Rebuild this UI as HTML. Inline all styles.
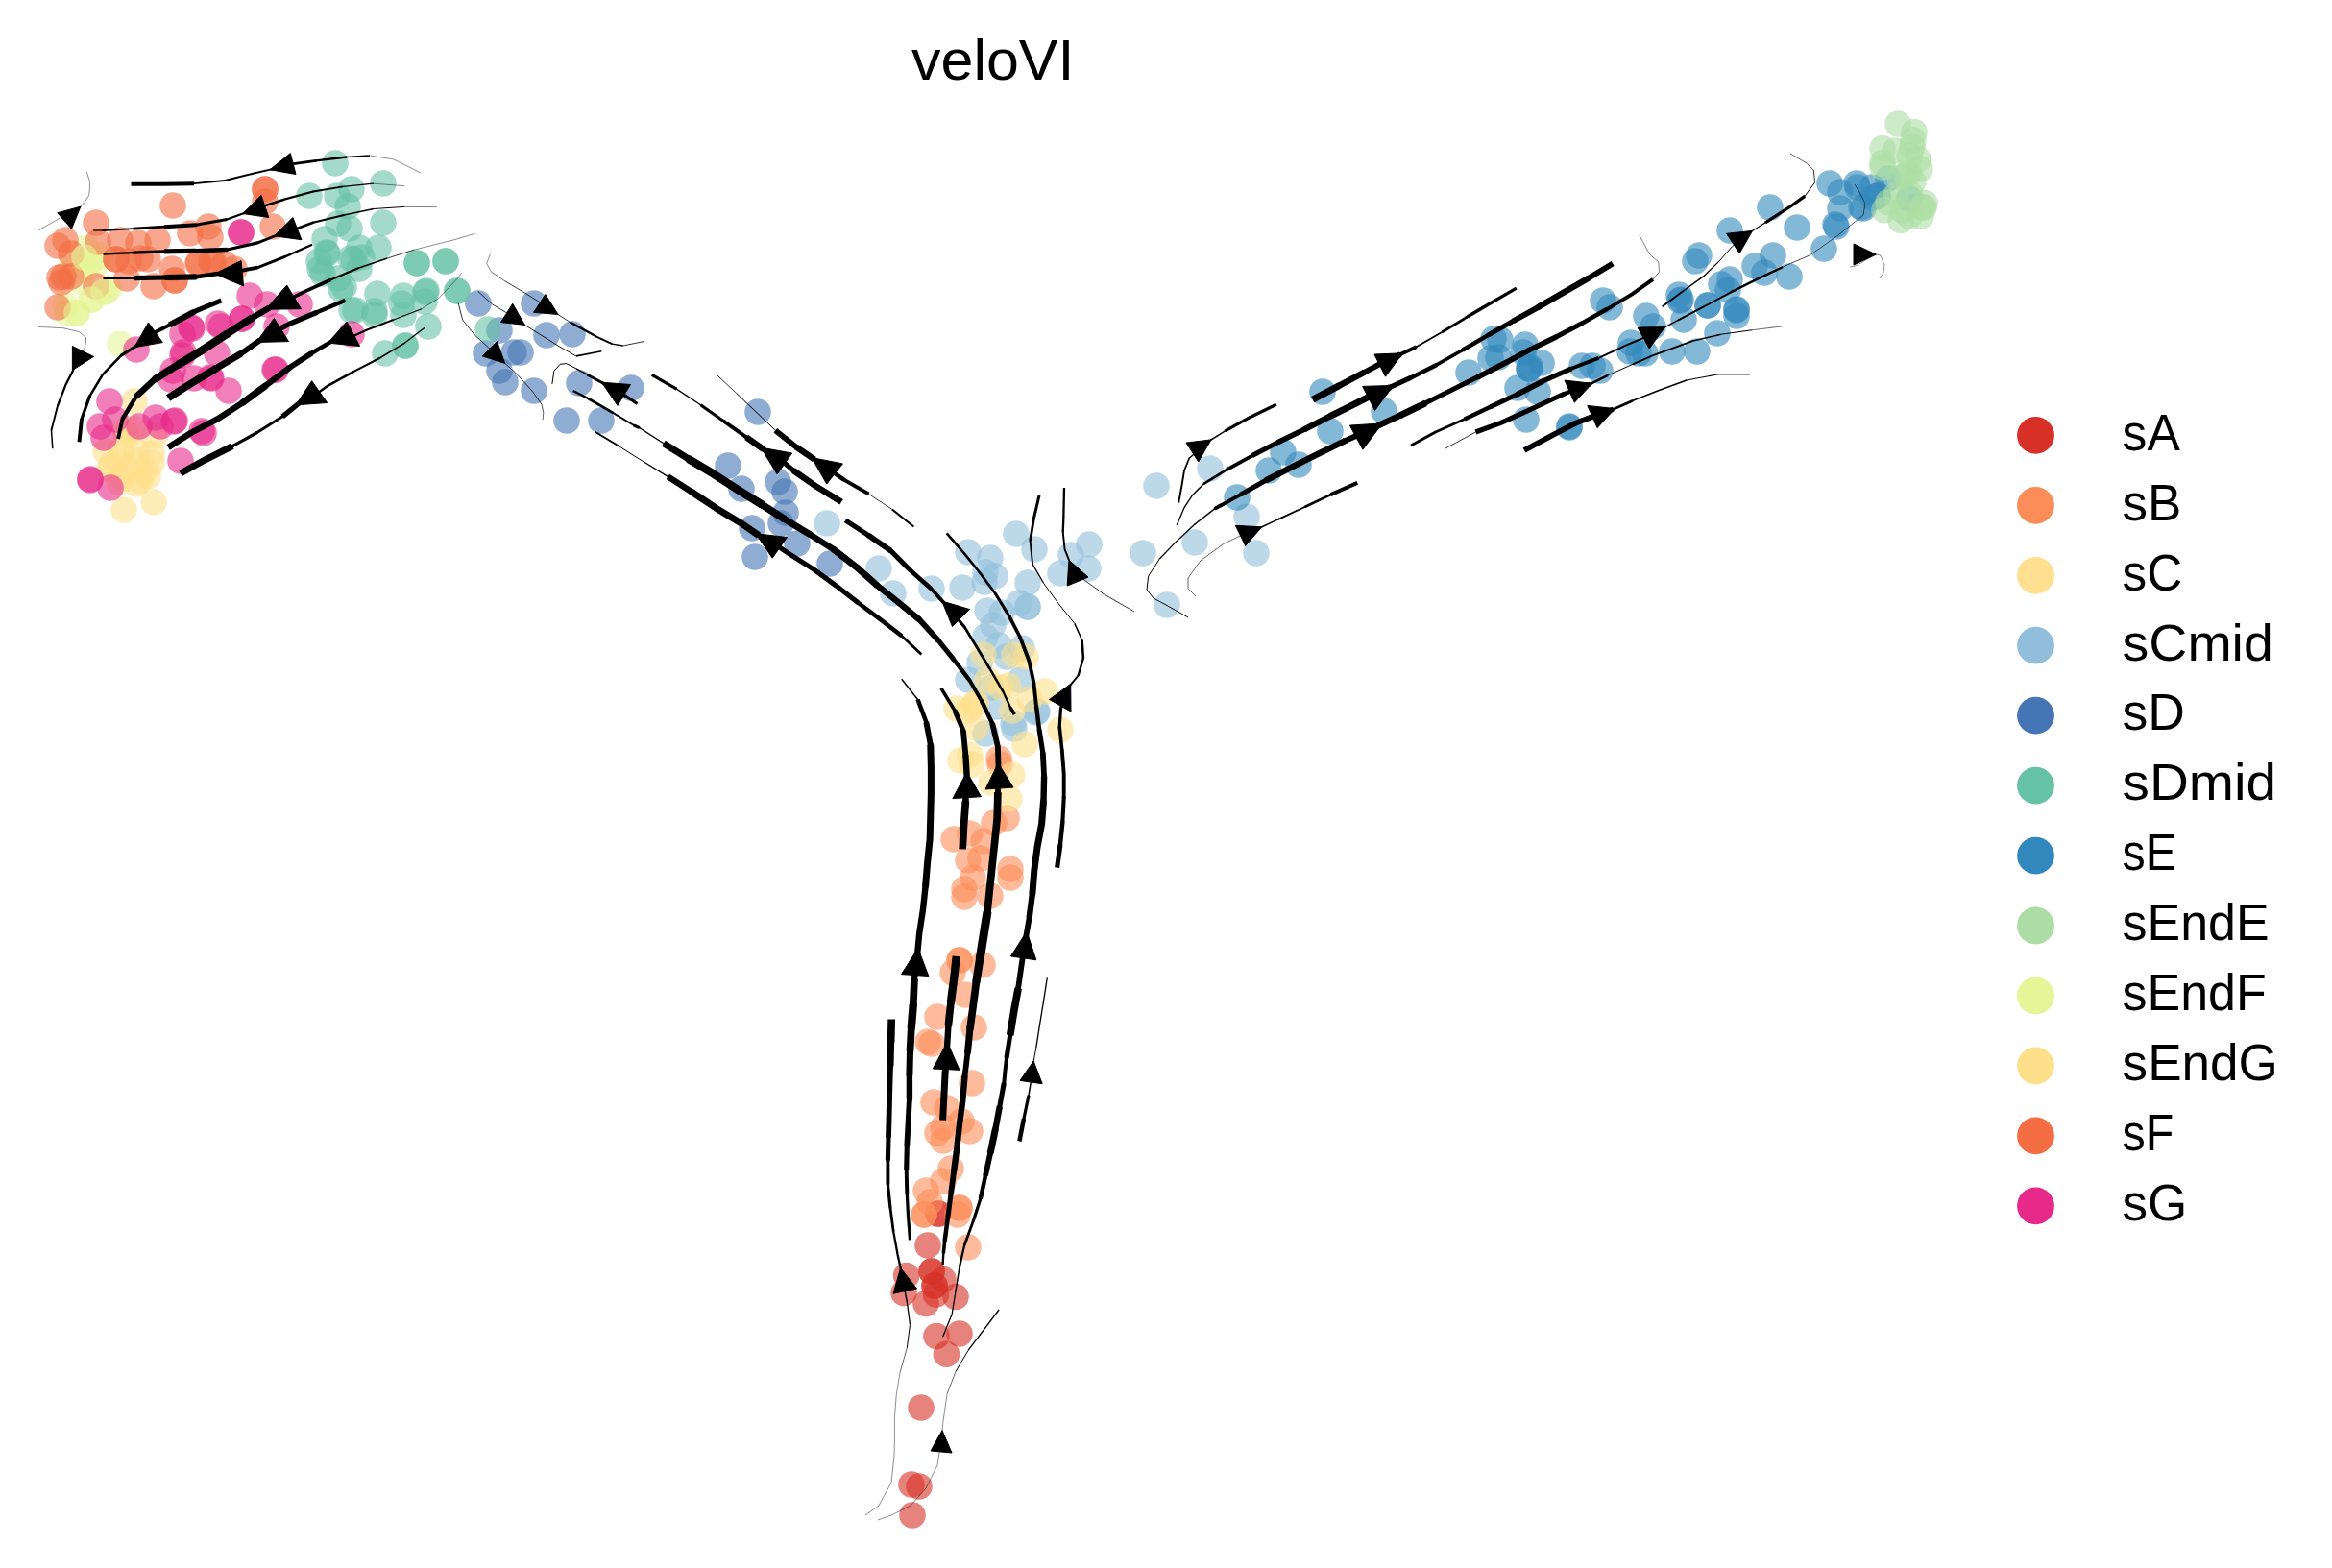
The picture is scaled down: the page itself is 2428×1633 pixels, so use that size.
<!DOCTYPE html>
<html><head><meta charset="utf-8"><title>veloVI</title>
<style>html,body{margin:0;padding:0;background:#fff;}svg{display:block;}
text{font-family:"Liberation Sans",sans-serif;fill:#000;}</style></head>
<body>
<svg xmlns="http://www.w3.org/2000/svg" width="2428" height="1633" viewBox="0 0 2428 1633">
<rect width="2428" height="1633" fill="#fff"/>
<text x="949" y="82.6" font-size="59" textLength="169.5" lengthAdjust="spacingAndGlyphs">veloVI</text>
<g fill="#d73027" fill-opacity="0.6">
<circle cx="977" cy="1264" r="13.8"/>
<circle cx="966" cy="1297" r="13.8"/>
<circle cx="943.6" cy="1328.6" r="13.8"/>
<circle cx="970" cy="1324" r="13.8"/>
<circle cx="982" cy="1332.5" r="13.8"/>
<circle cx="973" cy="1339" r="13.8"/>
<circle cx="941" cy="1346.6" r="13.8"/>
<circle cx="964" cy="1357.5" r="13.8"/>
<circle cx="974.5" cy="1348" r="13.8"/>
<circle cx="995" cy="1350.5" r="13.8"/>
<circle cx="975" cy="1391.6" r="13.8"/>
<circle cx="999" cy="1389" r="13.8"/>
<circle cx="985.4" cy="1410.3" r="13.8"/>
<circle cx="959" cy="1466" r="13.8"/>
<circle cx="949" cy="1546" r="13.8"/>
<circle cx="957" cy="1548" r="13.8"/>
<circle cx="950" cy="1578" r="13.8"/>
<circle cx="970" cy="1324" r="13.8"/>
<circle cx="973" cy="1339" r="13.8"/>
<circle cx="977" cy="1264" r="13.8"/>
</g>
<g fill="#fc8d59" fill-opacity="0.6">
<circle cx="1041" cy="796" r="13.8"/>
<circle cx="1048" cy="852" r="13.8"/>
<circle cx="1035" cy="857" r="13.8"/>
<circle cx="993" cy="874" r="13.8"/>
<circle cx="1010" cy="868" r="13.8"/>
<circle cx="1024" cy="876" r="13.8"/>
<circle cx="1008" cy="896" r="13.8"/>
<circle cx="1021" cy="894" r="13.8"/>
<circle cx="1013" cy="914" r="13.8"/>
<circle cx="1052" cy="905" r="13.8"/>
<circle cx="1052" cy="914" r="13.8"/>
<circle cx="1004" cy="926" r="13.8"/>
<circle cx="1004" cy="934" r="13.8"/>
<circle cx="1031" cy="933" r="13.8"/>
<circle cx="992" cy="1013" r="13.8"/>
<circle cx="1023" cy="1005" r="13.8"/>
<circle cx="1005" cy="1036" r="13.8"/>
<circle cx="976" cy="1059" r="13.8"/>
<circle cx="1014" cy="1070" r="13.8"/>
<circle cx="966" cy="1085" r="13.8"/>
<circle cx="970" cy="1087" r="13.8"/>
<circle cx="1040" cy="790" r="13.8"/>
<circle cx="1012" cy="1128" r="13.8"/>
<circle cx="972" cy="1148" r="13.8"/>
<circle cx="986" cy="1154" r="13.8"/>
<circle cx="1001" cy="1168" r="13.8"/>
<circle cx="1010" cy="1178" r="13.8"/>
<circle cx="976" cy="1180" r="13.8"/>
<circle cx="982" cy="1174" r="13.8"/>
<circle cx="982" cy="1188" r="13.8"/>
<circle cx="990" cy="1217" r="13.8"/>
<circle cx="982" cy="1230" r="13.8"/>
<circle cx="964" cy="1240" r="13.8"/>
<circle cx="968" cy="1252" r="13.8"/>
<circle cx="997" cy="1265" r="13.8"/>
<circle cx="1008" cy="1299" r="13.8"/>
<circle cx="999" cy="1000" r="13.8"/>
<circle cx="999" cy="1000" r="13.8"/>
<circle cx="962" cy="1265" r="13.8"/>
<circle cx="962" cy="1265" r="13.8"/>
<circle cx="999" cy="1258" r="13.8"/>
<circle cx="999" cy="1258" r="13.8"/>
</g>
<g fill="#91bfdb" fill-opacity="0.6">
<circle cx="861" cy="545" r="13.8"/>
<circle cx="915" cy="592" r="13.8"/>
<circle cx="930" cy="618" r="13.8"/>
<circle cx="970" cy="613" r="13.8"/>
<circle cx="1008" cy="575" r="13.8"/>
<circle cx="1031" cy="581" r="13.8"/>
<circle cx="1058" cy="556" r="13.8"/>
<circle cx="1077" cy="572" r="13.8"/>
<circle cx="1115" cy="578" r="13.8"/>
<circle cx="1134" cy="567" r="13.8"/>
<circle cx="1133" cy="592" r="13.8"/>
<circle cx="1104" cy="597" r="13.8"/>
<circle cx="1190" cy="576" r="13.8"/>
<circle cx="1204" cy="506" r="13.8"/>
<circle cx="1244" cy="565" r="13.8"/>
<circle cx="1308" cy="576" r="13.8"/>
<circle cx="1215" cy="630" r="13.8"/>
<circle cx="1260" cy="488" r="13.8"/>
<circle cx="1298" cy="538" r="13.8"/>
<circle cx="1026" cy="596" r="13.8"/>
<circle cx="1036" cy="600" r="13.8"/>
<circle cx="1002" cy="612" r="13.8"/>
<circle cx="1025" cy="606" r="13.8"/>
<circle cx="1070" cy="607" r="13.8"/>
<circle cx="1028" cy="636" r="13.8"/>
<circle cx="1043" cy="638" r="13.8"/>
<circle cx="1061" cy="628" r="13.8"/>
<circle cx="1070" cy="632" r="13.8"/>
<circle cx="1034" cy="651" r="13.8"/>
<circle cx="1026" cy="663" r="13.8"/>
<circle cx="1040" cy="672" r="13.8"/>
<circle cx="1064" cy="675" r="13.8"/>
<circle cx="1048" cy="684" r="13.8"/>
<circle cx="1020" cy="690" r="13.8"/>
<circle cx="1008" cy="708" r="13.8"/>
<circle cx="1032" cy="716" r="13.8"/>
<circle cx="1062" cy="708" r="13.8"/>
<circle cx="1080" cy="741" r="13.8"/>
<circle cx="1056" cy="759" r="13.8"/>
<circle cx="1026" cy="764" r="13.8"/>
<circle cx="1038" cy="736" r="13.8"/>
<circle cx="1055" cy="753" r="13.8"/>
<circle cx="1079" cy="742" r="13.8"/>
<circle cx="1070" cy="632" r="13.8"/>
</g>
<g fill="#4575b4" fill-opacity="0.6">
<circle cx="498" cy="316" r="13.8"/>
<circle cx="556" cy="316" r="13.8"/>
<circle cx="520" cy="344" r="13.8"/>
<circle cx="569" cy="349" r="13.8"/>
<circle cx="596" cy="348" r="13.8"/>
<circle cx="506" cy="368" r="13.8"/>
<circle cx="535" cy="367" r="13.8"/>
<circle cx="542" cy="367" r="13.8"/>
<circle cx="520" cy="386" r="13.8"/>
<circle cx="526" cy="398" r="13.8"/>
<circle cx="556" cy="407" r="13.8"/>
<circle cx="603" cy="399" r="13.8"/>
<circle cx="657" cy="404" r="13.8"/>
<circle cx="590" cy="438" r="13.8"/>
<circle cx="626" cy="438" r="13.8"/>
<circle cx="789" cy="429" r="13.8"/>
<circle cx="758" cy="485" r="13.8"/>
<circle cx="772" cy="509" r="13.8"/>
<circle cx="810" cy="502" r="13.8"/>
<circle cx="817" cy="512" r="13.8"/>
<circle cx="818" cy="534" r="13.8"/>
<circle cx="813" cy="545" r="13.8"/>
<circle cx="783" cy="550" r="13.8"/>
<circle cx="830" cy="566" r="13.8"/>
<circle cx="786" cy="580" r="13.8"/>
<circle cx="864" cy="587" r="13.8"/>
</g>
<g fill="#66c2a5" fill-opacity="0.6">
<circle cx="349" cy="170" r="13.8"/>
<circle cx="399" cy="191" r="13.8"/>
<circle cx="366" cy="197" r="13.8"/>
<circle cx="322" cy="204" r="13.8"/>
<circle cx="351" cy="204" r="13.8"/>
<circle cx="362" cy="215" r="13.8"/>
<circle cx="399" cy="232" r="13.8"/>
<circle cx="352" cy="233" r="13.8"/>
<circle cx="364" cy="238" r="13.8"/>
<circle cx="338" cy="249" r="13.8"/>
<circle cx="394" cy="258" r="13.8"/>
<circle cx="374" cy="258" r="13.8"/>
<circle cx="340" cy="263" r="13.8"/>
<circle cx="332" cy="272" r="13.8"/>
<circle cx="368" cy="270" r="13.8"/>
<circle cx="374" cy="280" r="13.8"/>
<circle cx="336" cy="285" r="13.8"/>
<circle cx="358" cy="299" r="13.8"/>
<circle cx="352" cy="290" r="13.8"/>
<circle cx="434" cy="274" r="13.8"/>
<circle cx="464" cy="272" r="13.8"/>
<circle cx="393" cy="306" r="13.8"/>
<circle cx="420" cy="308" r="13.8"/>
<circle cx="444" cy="303" r="13.8"/>
<circle cx="476" cy="303" r="13.8"/>
<circle cx="370" cy="323" r="13.8"/>
<circle cx="390" cy="324" r="13.8"/>
<circle cx="420" cy="328" r="13.8"/>
<circle cx="442" cy="314" r="13.8"/>
<circle cx="446" cy="340" r="13.8"/>
<circle cx="422" cy="360" r="13.8"/>
<circle cx="401" cy="368" r="13.8"/>
<circle cx="418" cy="316" r="13.8"/>
<circle cx="508" cy="343" r="13.8"/>
<circle cx="377" cy="268" r="13.8"/>
<circle cx="464" cy="272" r="13.8"/>
<circle cx="434" cy="274" r="13.8"/>
<circle cx="476" cy="303" r="13.8"/>
<circle cx="443" cy="304" r="13.8"/>
<circle cx="422" cy="360" r="13.8"/>
<circle cx="366" cy="323" r="13.8"/>
<circle cx="390" cy="328" r="13.8"/>
<circle cx="341" cy="264" r="13.8"/>
<circle cx="365" cy="269" r="13.8"/>
<circle cx="333" cy="280" r="13.8"/>
<circle cx="355" cy="301" r="13.8"/>
</g>
<g fill="#3288bd" fill-opacity="0.6">
<circle cx="1288" cy="518" r="13.8"/>
<circle cx="1321" cy="490" r="13.8"/>
<circle cx="1377" cy="408" r="13.8"/>
<circle cx="1336" cy="471" r="13.8"/>
<circle cx="1352" cy="484" r="13.8"/>
<circle cx="1385" cy="449" r="13.8"/>
<circle cx="1441" cy="428" r="13.8"/>
<circle cx="1529" cy="388" r="13.8"/>
<circle cx="1552" cy="373" r="13.8"/>
<circle cx="1555" cy="353" r="13.8"/>
<circle cx="1588" cy="359" r="13.8"/>
<circle cx="1586" cy="367" r="13.8"/>
<circle cx="1592" cy="384" r="13.8"/>
<circle cx="1580" cy="404" r="13.8"/>
<circle cx="1601" cy="408" r="13.8"/>
<circle cx="1589" cy="437" r="13.8"/>
<circle cx="1605" cy="378" r="13.8"/>
<circle cx="1634" cy="445" r="13.8"/>
<circle cx="1669" cy="313" r="13.8"/>
<circle cx="1676" cy="320" r="13.8"/>
<circle cx="1647" cy="381" r="13.8"/>
<circle cx="1658" cy="381" r="13.8"/>
<circle cx="1666" cy="386" r="13.8"/>
<circle cx="1698" cy="357" r="13.8"/>
<circle cx="1706" cy="368" r="13.8"/>
<circle cx="1713" cy="368" r="13.8"/>
<circle cx="1714" cy="329" r="13.8"/>
<circle cx="1721" cy="340" r="13.8"/>
<circle cx="1741" cy="366" r="13.8"/>
<circle cx="1767" cy="366" r="13.8"/>
<circle cx="1748" cy="307" r="13.8"/>
<circle cx="1750" cy="312" r="13.8"/>
<circle cx="1753" cy="333" r="13.8"/>
<circle cx="1778" cy="318" r="13.8"/>
<circle cx="1788" cy="347" r="13.8"/>
<circle cx="1769" cy="266" r="13.8"/>
<circle cx="1765" cy="272" r="13.8"/>
<circle cx="1801" cy="240" r="13.8"/>
<circle cx="1792" cy="296" r="13.8"/>
<circle cx="1843" cy="216" r="13.8"/>
<circle cx="1871" cy="237" r="13.8"/>
<circle cx="1846" cy="266" r="13.8"/>
<circle cx="1827" cy="277" r="13.8"/>
<circle cx="1837" cy="284" r="13.8"/>
<circle cx="1863" cy="288" r="13.8"/>
<circle cx="1801" cy="291" r="13.8"/>
<circle cx="1799" cy="302" r="13.8"/>
<circle cx="1808" cy="322" r="13.8"/>
<circle cx="1808" cy="329" r="13.8"/>
<circle cx="1899" cy="259" r="13.8"/>
<circle cx="1912" cy="236" r="13.8"/>
<circle cx="1916" cy="217" r="13.8"/>
<circle cx="1940" cy="217" r="13.8"/>
<circle cx="1905" cy="191" r="13.8"/>
<circle cx="1916" cy="200" r="13.8"/>
<circle cx="1933" cy="191" r="13.8"/>
<circle cx="1950" cy="206" r="13.8"/>
<circle cx="1934" cy="195" r="13.8"/>
<circle cx="1949" cy="195" r="13.8"/>
<circle cx="1955" cy="204" r="13.8"/>
<circle cx="1966" cy="186" r="13.8"/>
<circle cx="1938" cy="216" r="13.8"/>
<circle cx="1988" cy="207" r="13.8"/>
<circle cx="1562" cy="354" r="13.8"/>
<circle cx="1560" cy="372" r="13.8"/>
<circle cx="1593" cy="382" r="13.8"/>
<circle cx="1911" cy="234" r="13.8"/>
<circle cx="1697" cy="366" r="13.8"/>
<circle cx="1808" cy="323" r="13.8"/>
<circle cx="1778" cy="318" r="13.8"/>
<circle cx="1749" cy="313" r="13.8"/>
<circle cx="1955" cy="204" r="13.8"/>
<circle cx="1634" cy="444" r="13.8"/>
<circle cx="1592" cy="384" r="13.8"/>
</g>
<g fill="#abdda4" fill-opacity="0.6">
<circle cx="1976" cy="129" r="13.8"/>
<circle cx="1993" cy="137.5" r="13.8"/>
<circle cx="1992" cy="146" r="13.8"/>
<circle cx="1960" cy="154.5" r="13.8"/>
<circle cx="1973" cy="157" r="13.8"/>
<circle cx="1991" cy="153.6" r="13.8"/>
<circle cx="1988" cy="162.5" r="13.8"/>
<circle cx="1960" cy="169.6" r="13.8"/>
<circle cx="1960" cy="174" r="13.8"/>
<circle cx="1999" cy="176" r="13.8"/>
<circle cx="1987" cy="180" r="13.8"/>
<circle cx="1992" cy="189" r="13.8"/>
<circle cx="1978" cy="185" r="13.8"/>
<circle cx="2004" cy="211.6" r="13.8"/>
<circle cx="1974" cy="203.6" r="13.8"/>
<circle cx="1966" cy="210.7" r="13.8"/>
<circle cx="2001" cy="216" r="13.8"/>
<circle cx="1988" cy="225" r="13.8"/>
<circle cx="2000" cy="225" r="13.8"/>
<circle cx="1962" cy="218.8" r="13.8"/>
<circle cx="1979" cy="229.5" r="13.8"/>
<circle cx="2003" cy="216" r="13.8"/>
<circle cx="1985" cy="182" r="13.8"/>
<circle cx="1989" cy="203" r="13.8"/>
<circle cx="1981" cy="219" r="13.8"/>
<circle cx="1997" cy="166" r="13.8"/>
</g>
<g fill="#e6f598" fill-opacity="0.6">
<circle cx="90" cy="258" r="13.8"/>
<circle cx="90" cy="280" r="13.8"/>
<circle cx="110" cy="304" r="13.8"/>
<circle cx="96" cy="312" r="13.8"/>
<circle cx="80" cy="326" r="13.8"/>
<circle cx="70" cy="326" r="13.8"/>
<circle cx="75" cy="272" r="13.8"/>
<circle cx="125" cy="358" r="13.8"/>
<circle cx="104" cy="266" r="13.8"/>
<circle cx="97" cy="270" r="13.8"/>
<circle cx="100" cy="275" r="13.8"/>
<circle cx="84" cy="293" r="13.8"/>
<circle cx="68" cy="317" r="13.8"/>
<circle cx="114" cy="300" r="13.8"/>
</g>
<g fill="#fee08b" fill-opacity="0.6">
<circle cx="140" cy="418" r="13.8"/>
<circle cx="138" cy="446" r="13.8"/>
<circle cx="122" cy="480" r="13.8"/>
<circle cx="142" cy="480" r="13.8"/>
<circle cx="158" cy="482" r="13.8"/>
<circle cx="154" cy="496" r="13.8"/>
<circle cx="126" cy="496" r="13.8"/>
<circle cx="142" cy="504" r="13.8"/>
<circle cx="129" cy="531" r="13.8"/>
<circle cx="160" cy="523" r="13.8"/>
<circle cx="132" cy="454" r="13.8"/>
<circle cx="161" cy="454" r="13.8"/>
<circle cx="116" cy="484" r="13.8"/>
<circle cx="130" cy="448" r="13.8"/>
<circle cx="1000" cy="792" r="13.8"/>
<circle cx="1010" cy="786" r="13.8"/>
<circle cx="1012" cy="796" r="13.8"/>
<circle cx="1032" cy="815" r="13.8"/>
<circle cx="1054" cy="807" r="13.8"/>
<circle cx="1051" cy="832" r="13.8"/>
<circle cx="1067" cy="775" r="13.8"/>
<circle cx="1024" cy="682" r="13.8"/>
<circle cx="1056" cy="682" r="13.8"/>
<circle cx="1068" cy="684" r="13.8"/>
<circle cx="1042" cy="716" r="13.8"/>
<circle cx="1050" cy="714" r="13.8"/>
<circle cx="1028" cy="708" r="13.8"/>
<circle cx="1016" cy="732" r="13.8"/>
<circle cx="1008" cy="740" r="13.8"/>
<circle cx="1054" cy="740" r="13.8"/>
<circle cx="1072" cy="728" r="13.8"/>
<circle cx="1088" cy="720" r="13.8"/>
<circle cx="1016" cy="758" r="13.8"/>
<circle cx="1104" cy="760" r="13.8"/>
<circle cx="996" cy="738" r="13.8"/>
<circle cx="1014" cy="734" r="13.8"/>
<circle cx="110" cy="470" r="13.8"/>
<circle cx="126" cy="468" r="13.8"/>
<circle cx="142" cy="470" r="13.8"/>
<circle cx="158" cy="472" r="13.8"/>
<circle cx="114" cy="488" r="13.8"/>
<circle cx="132" cy="488" r="13.8"/>
<circle cx="150" cy="490" r="13.8"/>
<circle cx="124" cy="502" r="13.8"/>
<circle cx="146" cy="500" r="13.8"/>
</g>
<g fill="#f46d43" fill-opacity="0.6">
<circle cx="180" cy="214" r="13.8"/>
<circle cx="100" cy="232" r="13.8"/>
<circle cx="68" cy="250" r="13.8"/>
<circle cx="60" cy="256" r="13.8"/>
<circle cx="102" cy="252" r="13.8"/>
<circle cx="125" cy="250" r="13.8"/>
<circle cx="144" cy="253" r="13.8"/>
<circle cx="164" cy="250" r="13.8"/>
<circle cx="198" cy="243" r="13.8"/>
<circle cx="217" cy="236" r="13.8"/>
<circle cx="219" cy="247" r="13.8"/>
<circle cx="284" cy="236" r="13.8"/>
<circle cx="154" cy="270" r="13.8"/>
<circle cx="134" cy="272" r="13.8"/>
<circle cx="179" cy="280" r="13.8"/>
<circle cx="132" cy="290" r="13.8"/>
<circle cx="160" cy="298" r="13.8"/>
<circle cx="60" cy="320" r="13.8"/>
<circle cx="74" cy="264" r="13.8"/>
<circle cx="100" cy="298" r="13.8"/>
<circle cx="276" cy="197" r="13.8"/>
<circle cx="276" cy="210" r="13.8"/>
<circle cx="121" cy="270" r="13.8"/>
<circle cx="182" cy="292" r="13.8"/>
<circle cx="206" cy="274" r="13.8"/>
<circle cx="222" cy="272" r="13.8"/>
<circle cx="244" cy="280" r="13.8"/>
<circle cx="66" cy="288" r="13.8"/>
<circle cx="64" cy="294" r="13.8"/>
<circle cx="276" cy="197" r="13.8"/>
<circle cx="121" cy="270" r="13.8"/>
<circle cx="182" cy="292" r="13.8"/>
<circle cx="220" cy="272" r="13.8"/>
<circle cx="207" cy="274" r="13.8"/>
<circle cx="62" cy="289" r="13.8"/>
<circle cx="146" cy="269" r="13.8"/>
<circle cx="234" cy="275" r="13.8"/>
<circle cx="74" cy="288" r="13.8"/>
</g>
<g fill="#e6f598" fill-opacity="0.6">
<circle cx="88" cy="268" r="13.8"/>
<circle cx="108" cy="304" r="13.8"/>
<circle cx="80" cy="326" r="13.8"/>
<circle cx="95" cy="312" r="13.8"/>
</g>
<g fill="#e7298a" fill-opacity="0.6">
<circle cx="251" cy="242" r="13.8"/>
<circle cx="260" cy="308" r="13.8"/>
<circle cx="278" cy="317" r="13.8"/>
<circle cx="312" cy="317" r="13.8"/>
<circle cx="252" cy="332" r="13.8"/>
<circle cx="230" cy="340" r="13.8"/>
<circle cx="200" cy="342" r="13.8"/>
<circle cx="190" cy="348" r="13.8"/>
<circle cx="288" cy="340" r="13.8"/>
<circle cx="366" cy="348" r="13.8"/>
<circle cx="142" cy="364" r="13.8"/>
<circle cx="190" cy="370" r="13.8"/>
<circle cx="226" cy="368" r="13.8"/>
<circle cx="180" cy="386" r="13.8"/>
<circle cx="202" cy="394" r="13.8"/>
<circle cx="220" cy="394" r="13.8"/>
<circle cx="238" cy="407" r="13.8"/>
<circle cx="287" cy="385" r="13.8"/>
<circle cx="114" cy="418" r="13.8"/>
<circle cx="182" cy="438" r="13.8"/>
<circle cx="210" cy="449" r="13.8"/>
<circle cx="162" cy="435" r="13.8"/>
<circle cx="104" cy="444" r="13.8"/>
<circle cx="120" cy="437" r="13.8"/>
<circle cx="108" cy="456" r="13.8"/>
<circle cx="145" cy="444" r="13.8"/>
<circle cx="167" cy="444" r="13.8"/>
<circle cx="188" cy="480" r="13.8"/>
<circle cx="94" cy="500" r="13.8"/>
<circle cx="115" cy="508" r="13.8"/>
<circle cx="286" cy="385" r="13.8"/>
<circle cx="181" cy="439" r="13.8"/>
<circle cx="212" cy="451" r="13.8"/>
<circle cx="94" cy="499" r="13.8"/>
<circle cx="227" cy="337" r="13.8"/>
<circle cx="252" cy="332" r="13.8"/>
<circle cx="199" cy="341" r="13.8"/>
<circle cx="191" cy="367" r="13.8"/>
<circle cx="178" cy="395" r="13.8"/>
<circle cx="219" cy="393" r="13.8"/>
<circle cx="251" cy="242" r="13.8"/>
</g>
<g fill="none" stroke="#000" stroke-linejoin="round">
<path d="M438 180 L410 166 L385 162" stroke-width="0.45"/>
<path d="M385 162 L361 163.5" stroke-width="1.5"/>
<path d="M361 163.5 L329 167.4" stroke-width="2.3"/>
<path d="M329 167.4 L305.5 170.6 L282.3 176.4" stroke-width="2.6"/>
<path d="M282.3 176.4 L265.6 180.2 L234.3 188" stroke-width="1.9"/>
<path d="M234.3 188 L202.1 191.2" stroke-width="1.8"/>
<path d="M202.1 191.2 L169.3 191.8 L136.5 191.8" stroke-width="4.1"/>
<path d="M421.3 193.7 L389.1 191.2" stroke-width="0.45"/>
<path d="M389.1 191.2 L357 194.4" stroke-width="1.3"/>
<path d="M357 194.4 L326 199.5" stroke-width="1.8"/>
<path d="M326 199.5 L295.2 207.9" stroke-width="2.3"/>
<path d="M295.2 207.9 L277.2 213.7 L254.2 222" stroke-width="2.6"/>
<path d="M254.2 222 L236.2 228.5" stroke-width="2.3"/>
<path d="M236.2 228.5 L204 234.3" stroke-width="3.2"/>
<path d="M204 234.3 L171.2 236.2" stroke-width="4.1"/>
<path d="M171.2 236.2 L138.4 238.1" stroke-width="2.8"/>
<path d="M138.4 238.1 L106.9 240" stroke-width="1.9"/>
<path d="M106.9 240 L97.2 240" stroke-width="1.3"/>
<path d="M454.7 215.6 L421.3 215.4" stroke-width="0.50"/>
<path d="M421.3 215.4 L389.1 217.5" stroke-width="1"/>
<path d="M389.1 217.5 L358.2 224" stroke-width="1.5"/>
<path d="M358.2 224 L326 231.7" stroke-width="2.1"/>
<path d="M326 231.7 L310.6 237.5 L287.5 245.2 L268.4 252.9" stroke-width="2.8"/>
<path d="M268.4 252.9 L236.8 260" stroke-width="3.2"/>
<path d="M236.8 260 L204 261.3" stroke-width="4.5"/>
<path d="M204 261.3 L171.2 261.9" stroke-width="5.1"/>
<path d="M171.2 261.9 L138.4 263.2" stroke-width="3.2"/>
<path d="M138.4 263.2 L107.5 264.5" stroke-width="2.3"/>
<path d="M325 254.8 L297.3 267.1" stroke-width="2.3"/>
<path d="M297.3 267.1 L268.4 278.6" stroke-width="2.8"/>
<path d="M268.4 278.6 L253 281.5 L226.5 285.1" stroke-width="3.9"/>
<path d="M226.5 285.1 L204.7 288.3" stroke-width="4.5"/>
<path d="M204.7 288.3 L171.9 289" stroke-width="6.2"/>
<path d="M171.9 289 L139 289.6" stroke-width="5.1"/>
<path d="M139 289.6 L107.5 289.6" stroke-width="2.8"/>
<path d="M494.6 243.3 L472 250 L431.6 260" stroke-width="0.45"/>
<path d="M431.6 260 L403.3 269" stroke-width="0.80"/>
<path d="M403.3 269 L373 279.3" stroke-width="1.5"/>
<path d="M373 279.3 L344.1 291.5" stroke-width="2.3"/>
<path d="M344.1 291.5 L315.7 304.3 L306 309.4 L280.5 320.5" stroke-width="3.6"/>
<path d="M280.5 320.5 L262.6 330.9" stroke-width="6.4"/>
<path d="M262.6 330.9 L236.8 347.6" stroke-width="7.7"/>
<path d="M236.8 347.6 L211.1 364.3 L185.4 379.8" stroke-width="8.4"/>
<path d="M185.4 379.8 L160.9 395.2" stroke-width="7.7"/>
<path d="M160.9 395.2 L141.6 413.2" stroke-width="6.4"/>
<path d="M141.6 413.2 L127.5 436.4" stroke-width="4.5"/>
<path d="M127.5 436.4 L123 457" stroke-width="3.9"/>
<path d="M230.4 312.8 L202.1 324.7" stroke-width="5.1"/>
<path d="M202.1 324.7 L176.4 338.6" stroke-width="6.2"/>
<path d="M176.4 338.6 L163.5 345 L141.6 360.5" stroke-width="3.9"/>
<path d="M141.6 360.5 L126.2 370.1" stroke-width="3.2"/>
<path d="M126.2 370.1 L106.9 390.1 L93.4 412.6" stroke-width="2.6"/>
<path d="M93.4 412.6 L85 436.4" stroke-width="3.2"/>
<path d="M85 436.4 L82.5 460.2" stroke-width="3.9"/>
<path d="M359.5 312.8 L330 325.3" stroke-width="4.5"/>
<path d="M330 325.3 L301.4 337.3 L286 345 L270.3 354.7" stroke-width="5.4"/>
<path d="M270.3 354.7 L251 368.2" stroke-width="5.8"/>
<path d="M251 368.2 L225.3 383.6" stroke-width="7"/>
<path d="M225.3 383.6 L199.5 399 L175.1 414.5" stroke-width="7.7"/>
<path d="M480.5 284.4 L476.4 290 L456.8 310.5" stroke-width="0.45"/>
<path d="M456.8 310.5 L438.9 321.7" stroke-width="0.50"/>
<path d="M438.9 321.7 L409.9 332.9" stroke-width="1.1"/>
<path d="M409.9 332.9 L380.9 344 L368 350 L344.3 356.1" stroke-width="2"/>
<path d="M344.3 356.1 L324.6 367.7" stroke-width="4.5"/>
<path d="M324.6 367.7 L301.4 382.9" stroke-width="5.8"/>
<path d="M301.4 382.9 L276.7 401.6" stroke-width="6.3"/>
<path d="M276.7 401.6 L252.3 419.6" stroke-width="7"/>
<path d="M252.3 419.6 L226.5 436.4 L199.5 450.5 L175.1 466" stroke-width="6.4"/>
<path d="M442.5 340.9 L420.2 357.9" stroke-width="1.3"/>
<path d="M420.2 357.9 L395.2 373" stroke-width="1.6"/>
<path d="M395.2 373 L368.4 386.9" stroke-width="2"/>
<path d="M368.4 386.9 L341.6 401.6 L332.6 408 L311.3 420" stroke-width="2.5"/>
<path d="M311.3 420 L294.1 433.8" stroke-width="5.4"/>
<path d="M294.1 433.8 L267.7 450.5" stroke-width="2.8"/>
<path d="M267.7 450.5 L242 464.7" stroke-width="3.2"/>
<path d="M242 464.7 L213.7 478.8 L188 493" stroke-width="7"/>
<path d="M90.3 179.2 L93.4 188.7 L93.4 197.3 L92.6 203.6 L88.5 210 L84 215.1 L62.7 226.9 L40.3 239.8" stroke-width="0.45"/>
<path d="M40 340.4 L65.7 341.7 L82.5 345.6 L89.5 351.5 L89.5 356.6 L87.6 364.3" stroke-width="0.45"/>
<path d="M87.6 364.3 L76.5 385" stroke-width="0.50"/>
<path d="M76.5 385 L68.9 399.7 L59.9 422.9" stroke-width="2.3"/>
<path d="M59.9 422.9 L53.5 448" stroke-width="1.9"/>
<path d="M53.5 448 L54.8 467.2" stroke-width="1.5"/>
<path d="M510.5 264.8 L506.7 274.4 L511.2 282.8" stroke-width="0.45"/>
<path d="M511.2 282.8 L525.3 292.5" stroke-width="0.60"/>
<path d="M525.3 292.5 L545.9 304.7 L561.3 314.3 L580.6 327.2 L593.5 335.6" stroke-width="0.80"/>
<path d="M593.5 335.6 L620.5 350.3" stroke-width="2.3"/>
<path d="M620.5 350.3 L637.2 358.1" stroke-width="1.9"/>
<path d="M637.2 358.1 L648.8 360" stroke-width="1.3"/>
<path d="M648.8 360 L670.7 355.5" stroke-width="0.80"/>
<path d="M497.7 303.4 L512.5 316.9 L526.6 325.3 L545.9 338.1" stroke-width="0.80"/>
<path d="M545.9 338.1 L581.9 360.6 L599.9 370.9" stroke-width="0.90"/>
<path d="M599.9 370.9 L626.3 365.8" stroke-width="1.6"/>
<path d="M477.1 315.6 L481.6 333 L494.4 349.1 L508.6 361.9 L525.3 378 L538.2 389.6 L554.9 408.2 L563.9 421.1" stroke-width="0.80"/>
<path d="M563.9 421.1 L565.8 429.5" stroke-width="0.70"/>
<path d="M565.8 429.5 L565.2 437.2" stroke-width="0.60"/>
<path d="M663.6 420.5 L649.8 411.4 L628.2 399.2" stroke-width="3.2"/>
<path d="M628.2 399.2 L611.5 390.2" stroke-width="2.8"/>
<path d="M611.5 390.2 L599.9 383.8" stroke-width="1.5"/>
<path d="M599.9 383.8 L589.6 378.6 L583.2 379.3 L576.8 386.4 L574.9 399.9" stroke-width="1"/>
<path d="M596.7 407 L612.8 415.3" stroke-width="2.3"/>
<path d="M612.8 415.3 L638.5 430.1" stroke-width="2.8"/>
<path d="M638.5 430.1 L660 443" stroke-width="1.9"/>
<path d="M660 443 L665.8 445.6" stroke-width="3.2"/>
<path d="M665.8 445.6 L690.9 461.7" stroke-width="1.3"/>
<path d="M690.9 461.7 L716.6 477.8" stroke-width="7"/>
<path d="M716.6 477.8 L742.3 493.2 L768.1 509.9 L793.2 525.4" stroke-width="8.4"/>
<path d="M793.2 525.4 L817 540.8" stroke-width="7.7"/>
<path d="M817 540.8 L842.7 556.3" stroke-width="7"/>
<path d="M842.7 556.3 L868 572.2" stroke-width="6.4"/>
<path d="M868 572.2 L891.2 590.2 L913 609.5" stroke-width="7"/>
<path d="M913 609.5 L935.6 627.5 L957.4 645.5" stroke-width="6.4"/>
<path d="M957.4 645.5 L976.7 666.7" stroke-width="5.8"/>
<path d="M976.7 666.7 L992.8 686.7" stroke-width="5.1"/>
<path d="M992.8 686.7 L1009.5 708.5" stroke-width="4.5"/>
<path d="M1009.5 708.5 L1022 730" stroke-width="3.9"/>
<path d="M1022 730 L1033.1 753.2" stroke-width="4.5"/>
<path d="M1033.1 753.2 L1038.9 777.6 L1039.5 798.8 L1038.9 825.2" stroke-width="5.8"/>
<path d="M1038.9 825.2 L1038.2 852.2 L1035.7 876.7 L1033.1 901.1 L1030.5 925.5 L1028 949.6" stroke-width="7.7"/>
<path d="M1028 949.6 L1024.1 974 L1020.2 998.5" stroke-width="9"/>
<path d="M1020.2 998.5 L1016.4 1022.9" stroke-width="8.4"/>
<path d="M1016.4 1022.9 L1013.2 1047.4 L1009.9 1071.8" stroke-width="7.7"/>
<path d="M1009.9 1071.8 L1007.4 1096.9" stroke-width="7"/>
<path d="M1007.4 1096.9 L1004.5 1121" stroke-width="5.8"/>
<path d="M1004.5 1121 L1002.2 1146.7 L999 1170.5 L996.4 1194.9 L993.2 1219.4" stroke-width="6.4"/>
<path d="M993.2 1219.4 L990 1243.8" stroke-width="5.8"/>
<path d="M990 1243.8 L986.8 1268.2" stroke-width="5.1"/>
<path d="M986.8 1268.2 L983.6 1292.7" stroke-width="4.5"/>
<path d="M983.6 1292.7 L982.3 1305" stroke-width="3.6"/>
<path d="M982.3 1305 L981.6 1317" stroke-width="2.4"/>
<path d="M620 450 L645 465" stroke-width="2"/>
<path d="M645 465 L660 474.6 L670.3 481" stroke-width="1"/>
<path d="M670.3 481 L695.4 496.4" stroke-width="1.3"/>
<path d="M695.4 496.4 L720.5 512.5" stroke-width="6.4"/>
<path d="M720.5 512.5 L745.6 529.2 L771.3 544.7 L789.9 557.5" stroke-width="7"/>
<path d="M789.9 557.5 L812.5 570.6 L822.6 577.3 L847.1 592.9 L870.6 610.1 L893.1 627.5" stroke-width="5.1"/>
<path d="M893.1 627.5 L916.3 644.9 L938.8 662.2" stroke-width="4.5"/>
<path d="M938.8 662.2 L959.4 681.5" stroke-width="2.8"/>
<path d="M678.7 390.3 L704.4 405.1" stroke-width="3.2"/>
<path d="M704.4 405.1 L729.5 421.8" stroke-width="1.3"/>
<path d="M729.5 421.8 L753.3 438.5" stroke-width="3.2"/>
<path d="M753.3 438.5 L777.1 455.3" stroke-width="3.9"/>
<path d="M777.1 455.3 L795.1 468.1" stroke-width="6.4"/>
<path d="M795.1 468.1 L817 482.4 L826 490" stroke-width="5.1"/>
<path d="M826 490 L849.1 506.1 L876.1 522.8" stroke-width="6.4"/>
<path d="M746.2 390.3 L766.8 409.6" stroke-width="0.80"/>
<path d="M766.8 409.6 L807.3 448.2" stroke-width="1"/>
<path d="M807.3 448.2 L829.8 466.2" stroke-width="5.8"/>
<path d="M829.8 466.2 L847.8 478.4" stroke-width="6.4"/>
<path d="M847.8 478.4 L869 493 L878.7 499.6" stroke-width="4.5"/>
<path d="M878.7 499.6 L904.4 514.4" stroke-width="3.9"/>
<path d="M904.4 514.4 L928.9 530.5" stroke-width="0.80"/>
<path d="M928.9 530.5 L951.4 548.5" stroke-width="2.2"/>
<path d="M880.2 541.9 L904 557.4" stroke-width="5.1"/>
<path d="M904 557.4 L927.2 573.4" stroke-width="5.8"/>
<path d="M927.2 573.4 L947.8 594" stroke-width="5.1"/>
<path d="M947.8 594 L969.6 613.3" stroke-width="4.5"/>
<path d="M969.6 613.3 L982.5 627.5" stroke-width="3.9"/>
<path d="M982.5 627.5 L1000 648 L1004.4 653.2" stroke-width="3.2"/>
<path d="M1004.4 653.2 L1018.5 676.4 L1030.1 695.7" stroke-width="2.8"/>
<path d="M1030.1 695.7 L1044.3 720.1" stroke-width="2.6"/>
<path d="M1044.3 720.1 L1052 736.8" stroke-width="2.3"/>
<path d="M1052 736.8 L1056.3 744.2" stroke-width="3.6"/>
<path d="M985.7 555.4 L1003.1 575.4 L1019.8 596" stroke-width="2.6"/>
<path d="M1019.8 596 L1036.5 618.5" stroke-width="2.8"/>
<path d="M1036.5 618.5 L1050.7 641.6" stroke-width="3.2"/>
<path d="M1050.7 641.6 L1062.3 664.1" stroke-width="3.6"/>
<path d="M1062.3 664.1 L1071.3 688 L1076.4 711.1 L1079 735.5" stroke-width="3.9"/>
<path d="M1079 735.5 L1082 759.6" stroke-width="4.5"/>
<path d="M1082 759.6 L1085.8 784" stroke-width="5.1"/>
<path d="M1085.8 784 L1087.1 808.5" stroke-width="5.8"/>
<path d="M1087.1 808.5 L1086.5 834.2" stroke-width="6.4"/>
<path d="M1086.5 834.2 L1084.6 858 L1080 882.4 L1076.8 906.9 L1074.9 930.9" stroke-width="7"/>
<path d="M1074.9 930.9 L1071.7 955.4" stroke-width="6.4"/>
<path d="M1071.7 955.4 L1068.5 974 L1064 1002.3 L1060.1 1029.4" stroke-width="5.8"/>
<path d="M1060.1 1029.4 L1055.6 1053.8 L1051.7 1078.2" stroke-width="7.7"/>
<path d="M1051.7 1078.2 L1048 1102" stroke-width="5.1"/>
<path d="M1048 1102 L1046.5 1115 L1045.3 1128" stroke-width="4"/>
<path d="M1045.3 1128 L1040.8 1152.5" stroke-width="5.1"/>
<path d="M1040.8 1152.5 L1036.3 1176.3" stroke-width="6.4"/>
<path d="M1036.3 1176.3 L1031.2 1200.7" stroke-width="7"/>
<path d="M1031.2 1200.7 L1026 1224.5" stroke-width="5.8"/>
<path d="M1026 1224.5 L1020.9 1248.3" stroke-width="4.5"/>
<path d="M1020.9 1248.3 L1013.2 1272.1" stroke-width="3.2"/>
<path d="M1013.2 1272.1 L1004.1 1297" stroke-width="2.8"/>
<path d="M1004.1 1297 L999 1319.6" stroke-width="2.3"/>
<path d="M999 1319.6 L995.1 1344" stroke-width="1.5"/>
<path d="M995.1 1344 L991.2 1368.5 L981.6 1392.3" stroke-width="1.3"/>
<path d="M1082 516 L1076.4 540" stroke-width="3"/>
<path d="M1076.4 540 L1072.6 563.2" stroke-width="2.8"/>
<path d="M1072.6 563.2 L1075.1 587.6" stroke-width="1.9"/>
<path d="M1075.1 587.6 L1086.7 607.5" stroke-width="1.3"/>
<path d="M1086.7 607.5 L1102.2 628.8 L1118.9 649.4" stroke-width="1"/>
<path d="M1118.9 649.4 L1126.6 666.7" stroke-width="1.5"/>
<path d="M1126.6 666.7 L1127.9 685.4" stroke-width="2.6"/>
<path d="M1127.9 685.4 L1122.7 703.4" stroke-width="2.3"/>
<path d="M1122.7 703.4 L1113.7 714.3" stroke-width="1.9"/>
<path d="M1113.7 714.3 L1104.5 737.7 L1103.2 757" stroke-width="3.2"/>
<path d="M1103.2 757 L1105.8 781.5" stroke-width="3.6"/>
<path d="M1105.8 781.5 L1107.7 805.9 L1107.7 830.3" stroke-width="3.9"/>
<path d="M1107.7 830.3 L1106.4 855.4" stroke-width="4.1"/>
<path d="M1106.4 855.4 L1103.9 879.9" stroke-width="4.5"/>
<path d="M1103.9 879.9 L1100.6 903.7" stroke-width="5.1"/>
<path d="M1108 508 L1107.3 540 L1106.7 554.2" stroke-width="2.3"/>
<path d="M1106.7 554.2 L1108.6 572.2 L1113.1 583.7" stroke-width="1.9"/>
<path d="M1113.1 583.7 L1129.2 604.3 L1149.8 619.1 L1181 637" stroke-width="0.80"/>
<path d="M938.8 707.2 L955.5 728.5" stroke-width="1.5"/>
<path d="M955.5 728.5 L964.3 751.9" stroke-width="4.5"/>
<path d="M964.3 751.9 L968.8 775.7" stroke-width="5.8"/>
<path d="M968.8 775.7 L969.4 800.1 L969.4 825.2 L968.8 849.6 L968.1 874.1 L965.6 898.5 L963.6 923" stroke-width="7"/>
<path d="M963.6 923 L961 947 L957.2 972.1 L955.3 992 L952 1019.7" stroke-width="6.4"/>
<path d="M952 1019.7 L950.8 1046.1" stroke-width="7.7"/>
<path d="M950.8 1046.1 L948.8 1070.5" stroke-width="8.4"/>
<path d="M948.8 1070.5 L947.5 1095" stroke-width="7.7"/>
<path d="M947.5 1095 L946.9 1119.6" stroke-width="7"/>
<path d="M946.9 1119.6 L946.9 1144.7" stroke-width="6.4"/>
<path d="M946.9 1144.7 L945.6 1169.2 L944.3 1193.6" stroke-width="5.8"/>
<path d="M944.3 1193.6 L943.7 1218.1" stroke-width="5.1"/>
<path d="M943.7 1218.1 L944.3 1243.2" stroke-width="3.9"/>
<path d="M944.3 1243.2 L945.6 1267.6 L947.5 1291.4" stroke-width="3.2"/>
<path d="M979.9 716.9 L994.1 740" stroke-width="3.6"/>
<path d="M994.1 740 L1002.9 760.9" stroke-width="5.1"/>
<path d="M1002.9 760.9 L1005.4 786.6" stroke-width="5.8"/>
<path d="M1005.4 786.6 L1006.7 808.5 L1005.4 834.2" stroke-width="6.4"/>
<path d="M1005.4 834.2 L1003.5 859.9 L1002.2 884.4" stroke-width="7.7"/>
<path d="M928.2 1061.5 L927.6 1086" stroke-width="7.7"/>
<path d="M927.6 1086 L927 1110.4" stroke-width="7"/>
<path d="M927 1110.4 L926.3 1134.4 L925.7 1159.5 L925 1184" stroke-width="5.8"/>
<path d="M925 1184 L924.4 1208.4" stroke-width="5.1"/>
<path d="M924.4 1208.4 L924.4 1233.5" stroke-width="3.9"/>
<path d="M924.4 1233.5 L927 1258" stroke-width="3.2"/>
<path d="M927 1258 L930.2 1282.4" stroke-width="2.8"/>
<path d="M930.2 1282.4 L934.6 1306.7 L937.8 1321.5" stroke-width="2.3"/>
<path d="M937.8 1321.5 L944.3 1355.6" stroke-width="1.5"/>
<path d="M944.3 1355.6 L947.5 1379.4" stroke-width="1.3"/>
<path d="M947.5 1379.4 L944.3 1403.9" stroke-width="1"/>
<path d="M944.3 1403.9 L937.2 1428.9" stroke-width="0.60"/>
<path d="M937.2 1428.9 L933.3 1452.1 L931.4 1476.5 L931.4 1500 L931 1516 L928 1544 L915 1568 L901 1578" stroke-width="0.45"/>
<path d="M995.8 995.9 L993.2 1019.1 L990 1043.5" stroke-width="8.4"/>
<path d="M990 1043.5 L987.4 1068" stroke-width="7.7"/>
<path d="M987.4 1068 L986.1 1089.8 L984.2 1115" stroke-width="6.4"/>
<path d="M984.2 1115 L981.6 1166.6" stroke-width="7"/>
<path d="M1090.3 1018.4 L1086.5 1042.9 L1082.6 1066.7 L1078.8 1091.1" stroke-width="1.3"/>
<path d="M1078.8 1091.1 L1076 1106" stroke-width="1"/>
<path d="M1076 1106 L1073 1128.7 L1071 1140.9" stroke-width="1.5"/>
<path d="M1071 1140.9 L1065.9 1165.3" stroke-width="3.2"/>
<path d="M1065.9 1165.3 L1061.4 1188.5" stroke-width="4.5"/>
<path d="M1040.1 1364 L1008 1406.4" stroke-width="1.3"/>
<path d="M1008 1406.4 L995.1 1428.3" stroke-width="1"/>
<path d="M995.1 1428.3 L986.1 1451.5" stroke-width="0.60"/>
<path d="M986.1 1451.5 L982 1480 L981 1490 L978 1513 L976 1526 L964 1550 L948 1568 L928 1578 L914 1583" stroke-width="0.45"/>
<path d="M1227.2 523.5 L1230.5 505.5 L1233 490.1" stroke-width="1.9"/>
<path d="M1233 490.1 L1238.2 477.2" stroke-width="1.7"/>
<path d="M1238.2 477.2 L1242 474 L1260.1 458.5 L1275.5 448.9" stroke-width="1.5"/>
<path d="M1275.5 448.9 L1301.2 434.7 L1328.9 421.2" stroke-width="3.2"/>
<path d="M1366.8 416.1 L1393.9 401.8" stroke-width="7"/>
<path d="M1393.9 401.8 L1420.6 387.7" stroke-width="6.4"/>
<path d="M1420.6 387.7 L1435.4 379.9 L1458.2 369.1" stroke-width="5.8"/>
<path d="M1458.2 369.1 L1474.6 361.3" stroke-width="3.9"/>
<path d="M1474.6 361.3 L1501.6 345.8" stroke-width="1.9"/>
<path d="M1501.6 345.8 L1528 329.8" stroke-width="2.8"/>
<path d="M1528 329.8 L1553.1 315" stroke-width="3.6"/>
<path d="M1553.1 315 L1578.8 300.2" stroke-width="3.2"/>
<path d="M1225.3 546.7 L1233 528.7 L1241.4 515.8" stroke-width="1.3"/>
<path d="M1241.4 515.8 L1253 504.2" stroke-width="1.5"/>
<path d="M1253 504.2 L1276.8 489.4" stroke-width="2.6"/>
<path d="M1276.8 489.4 L1303.8 474.6" stroke-width="3.9"/>
<path d="M1303.8 474.6 L1330.8 460.5" stroke-width="5.1"/>
<path d="M1330.8 460.5 L1358.5 447" stroke-width="5.8"/>
<path d="M1358.5 447 L1386.1 432.8" stroke-width="6.4"/>
<path d="M1386.1 432.8 L1413.2 419.3 L1426 412.9" stroke-width="7"/>
<path d="M1426 412.9 L1447.6 403.1" stroke-width="6.4"/>
<path d="M1447.6 403.1 L1468.8 393.4" stroke-width="5.1"/>
<path d="M1468.8 393.4 L1495.8 379.9" stroke-width="4.5"/>
<path d="M1495.8 379.9 L1522.9 364.5" stroke-width="3.6"/>
<path d="M1522.9 364.5 L1549.2 349.1" stroke-width="4.5"/>
<path d="M1549.2 349.1 L1575.6 334.3" stroke-width="5.1"/>
<path d="M1575.6 334.3 L1601.3 320.1" stroke-width="5.8"/>
<path d="M1601.3 320.1 L1627.7 304.7 L1653.4 289.9" stroke-width="6.4"/>
<path d="M1653.4 289.9 L1679.2 274.4" stroke-width="5.8"/>
<path d="M1237 643 L1214 630 L1201 623 L1194 614 L1195.7 600 L1207.3 582" stroke-width="1"/>
<path d="M1207.3 582 L1225.3 563.4 L1244 546" stroke-width="1.3"/>
<path d="M1244 546 L1264.6 529.9" stroke-width="1.5"/>
<path d="M1264.6 529.9 L1291.6 515.1" stroke-width="3.9"/>
<path d="M1291.6 515.1 L1318 500.3" stroke-width="5.1"/>
<path d="M1318 500.3 L1345.6 486.2 L1372.6 472.7 L1400.3 459.2" stroke-width="6.4"/>
<path d="M1400.3 459.2 L1411.9 454 L1435.5 443" stroke-width="5.8"/>
<path d="M1435.5 443 L1457.9 432.7" stroke-width="6.4"/>
<path d="M1457.9 432.7 L1484.3 419.8" stroke-width="7"/>
<path d="M1484.3 419.8 L1511.3 406.3 L1538.3 392.8" stroke-width="5.1"/>
<path d="M1538.3 392.8 L1566 378.6 L1592.3 364.5 L1620 351" stroke-width="5.8"/>
<path d="M1620 351 L1647 336.8" stroke-width="5.1"/>
<path d="M1647 336.8 L1673.4 321.8" stroke-width="4.5"/>
<path d="M1673.4 321.8 L1699.2 306.4 L1721 290.9" stroke-width="3.9"/>
<path d="M1721 290.9 L1727.5 283.2" stroke-width="0.60"/>
<path d="M1727.5 283.2 L1726.8 272.9 L1717.8 265.2 L1706.9 245.3" stroke-width="0.50"/>
<path d="M1245 621 L1237 613 L1237 602 L1249.8 584 L1273.6 566.6 L1290.9 558.2 L1312.8 549.2" stroke-width="0.60"/>
<path d="M1312.8 549.2 L1330.8 540.9" stroke-width="1.5"/>
<path d="M1330.8 540.9 L1358.5 528" stroke-width="1.9"/>
<path d="M1358.5 528 L1385.5 515.1" stroke-width="2.6"/>
<path d="M1385.5 515.1 L1413.2 502.9" stroke-width="3.9"/>
<path d="M1469 464 L1494.6 450" stroke-width="3"/>
<path d="M1494.6 450 L1524.8 436.5" stroke-width="2.6"/>
<path d="M1524.8 436.5 L1551.8 423.7" stroke-width="4.5"/>
<path d="M1551.8 423.7 L1579.5 410.8" stroke-width="5.1"/>
<path d="M1579.5 410.8 L1607.1 396.7" stroke-width="5.8"/>
<path d="M1607.1 396.7 L1636.1 383.8" stroke-width="5.1"/>
<path d="M1636.1 383.8 L1664.4 372.9" stroke-width="3.9"/>
<path d="M1664.4 372.9 L1694 359.2 L1711 352 L1732.6 341.1" stroke-width="2"/>
<path d="M1732.6 341.1 L1747.4 333.4" stroke-width="1.5"/>
<path d="M1747.4 333.4 L1774.4 319.2 L1802.1 304.4" stroke-width="1.9"/>
<path d="M1802.1 304.4 L1829.1 290.9 L1856.1 278.1" stroke-width="2.3"/>
<path d="M1856.1 278.1 L1884.4 265.8" stroke-width="0.70"/>
<path d="M1884.4 265.8 L1912.7 245.9 L1940 224 L1942 212 L1936 200 L1931 192" stroke-width="0.60"/>
<path d="M1505 467 L1536.4 450" stroke-width="0.80"/>
<path d="M1536.4 450 L1562.7 440.4 L1589.8 428.2 L1617.4 415.3 L1629 410" stroke-width="5.1"/>
<path d="M1629 410 L1656 399.9" stroke-width="4.5"/>
<path d="M1656 399.9 L1674 390.9" stroke-width="2.6"/>
<path d="M1674 390.9 L1700 379.3" stroke-width="1"/>
<path d="M1700 379.3 L1721 370.1 L1761.6 355.3" stroke-width="1.9"/>
<path d="M1761.6 355.3 L1791.8 348.2" stroke-width="1.5"/>
<path d="M1791.8 348.2 L1824.6 343.7" stroke-width="1"/>
<path d="M1824.6 343.7 L1856.1 339.8" stroke-width="0.60"/>
<path d="M1587 469 L1618.7 452 L1641.2 440.4 L1658 434" stroke-width="5.8"/>
<path d="M1658 434 L1679.8 426.2" stroke-width="5"/>
<path d="M1679.8 426.2 L1700 417.2" stroke-width="2.6"/>
<path d="M1700 417.2 L1726 407 L1756 396" stroke-width="1.6"/>
<path d="M1756 396 L1788 390" stroke-width="1.2"/>
<path d="M1788 390 L1822 390" stroke-width="0.80"/>
<path d="M1864 160 L1881.2 170" stroke-width="0.60"/>
<path d="M1881.2 170 L1888.3 177.1" stroke-width="0.70"/>
<path d="M1888.3 177.1 L1889.6 189.9" stroke-width="0.80"/>
<path d="M1889.6 189.9 L1879.3 204.1" stroke-width="1"/>
<path d="M1879.3 204.1 L1863.2 215.7 L1838.1 231.8" stroke-width="3.2"/>
<path d="M1838.1 231.8 L1824 240.8" stroke-width="1.3"/>
<path d="M1824 240.8 L1803.4 256.8 L1789.2 272.9" stroke-width="1"/>
<path d="M1789.2 272.9 L1773.8 287.7" stroke-width="1.3"/>
<path d="M1773.8 287.7 L1753.2 302.5" stroke-width="1.5"/>
<path d="M1753.2 302.5 L1730.7 319.2" stroke-width="1.9"/>
<path d="M1926 278 L1932 277 L1953 265 L1958 266 L1962 276 L1961 284 L1957 290" stroke-width="0.45"/>
</g>
<g fill="#000">
<circle cx="361" cy="163.5" r="0.8"/>
<circle cx="329" cy="167.4" r="1.1"/>
<circle cx="282.3" cy="176.4" r="0.9"/>
<circle cx="234.3" cy="188" r="0.9"/>
<circle cx="202.1" cy="191.2" r="0.9"/>
<circle cx="357" cy="194.4" r="0.7"/>
<circle cx="326" cy="199.5" r="0.9"/>
<circle cx="295.2" cy="207.9" r="1.1"/>
<circle cx="254.2" cy="222" r="1.1"/>
<circle cx="236.2" cy="228.5" r="1.1"/>
<circle cx="204" cy="234.3" r="1.6"/>
<circle cx="171.2" cy="236.2" r="1.4"/>
<circle cx="138.4" cy="238.1" r="0.9"/>
<circle cx="106.9" cy="240" r="0.7"/>
<circle cx="358.2" cy="224" r="0.8"/>
<circle cx="326" cy="231.7" r="1.1"/>
<circle cx="268.4" cy="252.9" r="1.4"/>
<circle cx="236.8" cy="260" r="1.6"/>
<circle cx="204" cy="261.3" r="2.2"/>
<circle cx="171.2" cy="261.9" r="1.6"/>
<circle cx="138.4" cy="263.2" r="1.1"/>
<circle cx="297.3" cy="267.1" r="1.1"/>
<circle cx="268.4" cy="278.6" r="1.4"/>
<circle cx="226.5" cy="285.1" r="1.9"/>
<circle cx="204.7" cy="288.3" r="2.2"/>
<circle cx="171.9" cy="289" r="2.5"/>
<circle cx="139" cy="289.6" r="1.4"/>
<circle cx="373" cy="279.3" r="0.8"/>
<circle cx="344.1" cy="291.5" r="1.1"/>
<circle cx="280.5" cy="320.5" r="1.8"/>
<circle cx="262.6" cy="330.9" r="3.2"/>
<circle cx="236.8" cy="347.6" r="3.9"/>
<circle cx="185.4" cy="379.8" r="3.9"/>
<circle cx="160.9" cy="395.2" r="3.2"/>
<circle cx="141.6" cy="413.2" r="2.2"/>
<circle cx="127.5" cy="436.4" r="1.9"/>
<circle cx="202.1" cy="324.7" r="2.5"/>
<circle cx="176.4" cy="338.6" r="1.9"/>
<circle cx="141.6" cy="360.5" r="1.6"/>
<circle cx="126.2" cy="370.1" r="1.3"/>
<circle cx="93.4" cy="412.6" r="1.3"/>
<circle cx="85" cy="436.4" r="1.6"/>
<circle cx="330" cy="325.3" r="2.2"/>
<circle cx="270.3" cy="354.7" r="2.7"/>
<circle cx="251" cy="368.2" r="2.9"/>
<circle cx="225.3" cy="383.6" r="3.5"/>
<circle cx="344.3" cy="356.1" r="1.0"/>
<circle cx="324.6" cy="367.7" r="2.2"/>
<circle cx="301.4" cy="382.9" r="2.9"/>
<circle cx="276.7" cy="401.6" r="3.1"/>
<circle cx="252.3" cy="419.6" r="3.2"/>
<circle cx="420.2" cy="357.9" r="0.7"/>
<circle cx="395.2" cy="373" r="0.8"/>
<circle cx="368.4" cy="386.9" r="1.0"/>
<circle cx="311.3" cy="420" r="1.2"/>
<circle cx="294.1" cy="433.8" r="1.4"/>
<circle cx="267.7" cy="450.5" r="1.4"/>
<circle cx="242" cy="464.7" r="1.6"/>
<circle cx="59.9" cy="422.9" r="0.9"/>
<circle cx="53.5" cy="448" r="0.8"/>
<circle cx="620.5" cy="350.3" r="0.9"/>
<circle cx="637.2" cy="358.1" r="0.7"/>
<circle cx="628.2" cy="399.2" r="1.4"/>
<circle cx="611.5" cy="390.2" r="0.8"/>
<circle cx="612.8" cy="415.3" r="1.1"/>
<circle cx="638.5" cy="430.1" r="0.9"/>
<circle cx="660" cy="443" r="0.9"/>
<circle cx="665.8" cy="445.6" r="0.7"/>
<circle cx="690.9" cy="461.7" r="0.7"/>
<circle cx="716.6" cy="477.8" r="3.5"/>
<circle cx="793.2" cy="525.4" r="3.9"/>
<circle cx="817" cy="540.8" r="3.5"/>
<circle cx="842.7" cy="556.3" r="3.2"/>
<circle cx="868" cy="572.2" r="3.2"/>
<circle cx="913" cy="609.5" r="3.2"/>
<circle cx="957.4" cy="645.5" r="2.9"/>
<circle cx="976.7" cy="666.7" r="2.5"/>
<circle cx="992.8" cy="686.7" r="2.2"/>
<circle cx="1009.5" cy="708.5" r="1.9"/>
<circle cx="1022" cy="730" r="1.9"/>
<circle cx="1033.1" cy="753.2" r="2.2"/>
<circle cx="1038.9" cy="825.2" r="2.9"/>
<circle cx="1028" cy="949.6" r="3.9"/>
<circle cx="1020.2" cy="998.5" r="4.2"/>
<circle cx="1016.4" cy="1022.9" r="3.9"/>
<circle cx="1009.9" cy="1071.8" r="3.5"/>
<circle cx="1007.4" cy="1096.9" r="2.9"/>
<circle cx="1004.5" cy="1121" r="2.9"/>
<circle cx="993.2" cy="1219.4" r="2.9"/>
<circle cx="990" cy="1243.8" r="2.5"/>
<circle cx="986.8" cy="1268.2" r="2.2"/>
<circle cx="983.6" cy="1292.7" r="1.8"/>
<circle cx="982.3" cy="1305" r="1.2"/>
<circle cx="695.4" cy="496.4" r="0.7"/>
<circle cx="720.5" cy="512.5" r="3.2"/>
<circle cx="789.9" cy="557.5" r="2.5"/>
<circle cx="893.1" cy="627.5" r="2.2"/>
<circle cx="938.8" cy="662.2" r="1.4"/>
<circle cx="704.4" cy="405.1" r="0.7"/>
<circle cx="729.5" cy="421.8" r="0.7"/>
<circle cx="753.3" cy="438.5" r="1.6"/>
<circle cx="777.1" cy="455.3" r="1.9"/>
<circle cx="795.1" cy="468.1" r="2.5"/>
<circle cx="826" cy="490" r="2.5"/>
<circle cx="829.8" cy="466.2" r="2.9"/>
<circle cx="847.8" cy="478.4" r="2.2"/>
<circle cx="878.7" cy="499.6" r="1.9"/>
<circle cx="904" cy="557.4" r="2.5"/>
<circle cx="927.2" cy="573.4" r="2.5"/>
<circle cx="947.8" cy="594" r="2.2"/>
<circle cx="969.6" cy="613.3" r="1.9"/>
<circle cx="982.5" cy="627.5" r="1.6"/>
<circle cx="1004.4" cy="653.2" r="1.4"/>
<circle cx="1030.1" cy="695.7" r="1.3"/>
<circle cx="1044.3" cy="720.1" r="1.1"/>
<circle cx="1052" cy="736.8" r="1.1"/>
<circle cx="1019.8" cy="596" r="1.3"/>
<circle cx="1036.5" cy="618.5" r="1.4"/>
<circle cx="1050.7" cy="641.6" r="1.6"/>
<circle cx="1062.3" cy="664.1" r="1.8"/>
<circle cx="1079" cy="735.5" r="1.9"/>
<circle cx="1082" cy="759.6" r="2.2"/>
<circle cx="1085.8" cy="784" r="2.5"/>
<circle cx="1087.1" cy="808.5" r="2.9"/>
<circle cx="1086.5" cy="834.2" r="3.2"/>
<circle cx="1074.9" cy="930.9" r="3.2"/>
<circle cx="1071.7" cy="955.4" r="2.9"/>
<circle cx="1060.1" cy="1029.4" r="2.9"/>
<circle cx="1051.7" cy="1078.2" r="2.5"/>
<circle cx="1048" cy="1102" r="2.0"/>
<circle cx="1045.3" cy="1128" r="2.0"/>
<circle cx="1040.8" cy="1152.5" r="2.5"/>
<circle cx="1036.3" cy="1176.3" r="3.2"/>
<circle cx="1031.2" cy="1200.7" r="2.9"/>
<circle cx="1026" cy="1224.5" r="2.2"/>
<circle cx="1020.9" cy="1248.3" r="1.6"/>
<circle cx="1013.2" cy="1272.1" r="1.4"/>
<circle cx="1004.1" cy="1297" r="1.1"/>
<circle cx="999" cy="1319.6" r="0.8"/>
<circle cx="995.1" cy="1344" r="0.7"/>
<circle cx="1076.4" cy="540" r="1.4"/>
<circle cx="1072.6" cy="563.2" r="0.9"/>
<circle cx="1075.1" cy="587.6" r="0.7"/>
<circle cx="1126.6" cy="666.7" r="0.8"/>
<circle cx="1127.9" cy="685.4" r="1.1"/>
<circle cx="1122.7" cy="703.4" r="0.9"/>
<circle cx="1113.7" cy="714.3" r="0.9"/>
<circle cx="1103.2" cy="757" r="1.6"/>
<circle cx="1105.8" cy="781.5" r="1.8"/>
<circle cx="1107.7" cy="830.3" r="1.9"/>
<circle cx="1106.4" cy="855.4" r="2.0"/>
<circle cx="1103.9" cy="879.9" r="2.2"/>
<circle cx="1106.7" cy="554.2" r="0.9"/>
<circle cx="955.5" cy="728.5" r="0.8"/>
<circle cx="964.3" cy="751.9" r="2.2"/>
<circle cx="968.8" cy="775.7" r="2.9"/>
<circle cx="963.6" cy="923" r="3.2"/>
<circle cx="952" cy="1019.7" r="3.2"/>
<circle cx="950.8" cy="1046.1" r="3.9"/>
<circle cx="948.8" cy="1070.5" r="3.9"/>
<circle cx="947.5" cy="1095" r="3.5"/>
<circle cx="946.9" cy="1119.6" r="3.2"/>
<circle cx="946.9" cy="1144.7" r="2.9"/>
<circle cx="944.3" cy="1193.6" r="2.5"/>
<circle cx="943.7" cy="1218.1" r="1.9"/>
<circle cx="944.3" cy="1243.2" r="1.6"/>
<circle cx="994.1" cy="740" r="1.8"/>
<circle cx="1002.9" cy="760.9" r="2.5"/>
<circle cx="1005.4" cy="786.6" r="2.9"/>
<circle cx="1005.4" cy="834.2" r="3.2"/>
<circle cx="927.6" cy="1086" r="3.5"/>
<circle cx="927" cy="1110.4" r="2.9"/>
<circle cx="925" cy="1184" r="2.5"/>
<circle cx="924.4" cy="1208.4" r="1.9"/>
<circle cx="924.4" cy="1233.5" r="1.6"/>
<circle cx="927" cy="1258" r="1.4"/>
<circle cx="930.2" cy="1282.4" r="1.1"/>
<circle cx="937.8" cy="1321.5" r="0.8"/>
<circle cx="944.3" cy="1355.6" r="0.7"/>
<circle cx="990" cy="1043.5" r="3.9"/>
<circle cx="987.4" cy="1068" r="3.2"/>
<circle cx="984.2" cy="1115" r="3.2"/>
<circle cx="1071" cy="1140.9" r="0.8"/>
<circle cx="1065.9" cy="1165.3" r="1.6"/>
<circle cx="1233" cy="490.1" r="0.8"/>
<circle cx="1238.2" cy="477.2" r="0.8"/>
<circle cx="1275.5" cy="448.9" r="0.8"/>
<circle cx="1393.9" cy="401.8" r="3.2"/>
<circle cx="1420.6" cy="387.7" r="2.9"/>
<circle cx="1458.2" cy="369.1" r="1.9"/>
<circle cx="1474.6" cy="361.3" r="0.9"/>
<circle cx="1501.6" cy="345.8" r="0.9"/>
<circle cx="1528" cy="329.8" r="1.4"/>
<circle cx="1553.1" cy="315" r="1.6"/>
<circle cx="1241.4" cy="515.8" r="0.7"/>
<circle cx="1253" cy="504.2" r="0.8"/>
<circle cx="1276.8" cy="489.4" r="1.3"/>
<circle cx="1303.8" cy="474.6" r="1.9"/>
<circle cx="1330.8" cy="460.5" r="2.5"/>
<circle cx="1358.5" cy="447" r="2.9"/>
<circle cx="1386.1" cy="432.8" r="3.2"/>
<circle cx="1426" cy="412.9" r="3.2"/>
<circle cx="1447.6" cy="403.1" r="2.5"/>
<circle cx="1468.8" cy="393.4" r="2.2"/>
<circle cx="1495.8" cy="379.9" r="1.8"/>
<circle cx="1522.9" cy="364.5" r="1.8"/>
<circle cx="1549.2" cy="349.1" r="2.2"/>
<circle cx="1575.6" cy="334.3" r="2.5"/>
<circle cx="1601.3" cy="320.1" r="2.9"/>
<circle cx="1653.4" cy="289.9" r="2.9"/>
<circle cx="1244" cy="546" r="0.7"/>
<circle cx="1264.6" cy="529.9" r="0.8"/>
<circle cx="1291.6" cy="515.1" r="1.9"/>
<circle cx="1318" cy="500.3" r="2.5"/>
<circle cx="1400.3" cy="459.2" r="2.9"/>
<circle cx="1435.5" cy="443" r="2.9"/>
<circle cx="1457.9" cy="432.7" r="3.2"/>
<circle cx="1484.3" cy="419.8" r="2.5"/>
<circle cx="1538.3" cy="392.8" r="2.5"/>
<circle cx="1620" cy="351" r="2.5"/>
<circle cx="1647" cy="336.8" r="2.2"/>
<circle cx="1673.4" cy="321.8" r="1.9"/>
<circle cx="1330.8" cy="540.9" r="0.8"/>
<circle cx="1358.5" cy="528" r="0.9"/>
<circle cx="1385.5" cy="515.1" r="1.3"/>
<circle cx="1494.6" cy="450" r="1.3"/>
<circle cx="1524.8" cy="436.5" r="1.3"/>
<circle cx="1551.8" cy="423.7" r="2.2"/>
<circle cx="1579.5" cy="410.8" r="2.5"/>
<circle cx="1607.1" cy="396.7" r="2.5"/>
<circle cx="1636.1" cy="383.8" r="1.9"/>
<circle cx="1664.4" cy="372.9" r="1.0"/>
<circle cx="1732.6" cy="341.1" r="0.8"/>
<circle cx="1747.4" cy="333.4" r="0.8"/>
<circle cx="1802.1" cy="304.4" r="0.9"/>
<circle cx="1629" cy="410" r="2.2"/>
<circle cx="1656" cy="399.9" r="1.3"/>
<circle cx="1761.6" cy="355.3" r="0.8"/>
<circle cx="1658" cy="434" r="2.5"/>
<circle cx="1679.8" cy="426.2" r="1.3"/>
<circle cx="1700" cy="417.2" r="0.8"/>
<circle cx="1756" cy="396" r="0.6"/>
<circle cx="1838.1" cy="231.8" r="0.7"/>
<circle cx="1773.8" cy="287.7" r="0.7"/>
<circle cx="1753.2" cy="302.5" r="0.8"/>
</g>
<g fill="#000" stroke="#000" stroke-width="1" stroke-linejoin="round">
<polygon points="281,176.7 302.3,159.6 308,181.5"/>
<polygon points="252.7,222.5 272,203.4 279.8,226.5"/>
<polygon points="285.6,245.8 304.9,226.5 313.9,249.7"/>
<polygon points="223.4,285.1 251,271.6 253.6,298"/>
<polygon points="276.4,322.3 298.7,297.1 313.5,321.7"/>
<polygon points="139.8,361.8 154.5,336 169.3,356.6"/>
<polygon points="266.7,356.5 285.4,331.5 300.5,355.6"/>
<polygon points="341.3,357.1 361.2,335.1 374.6,360.5"/>
<polygon points="308,421.8 324.6,396.7 340.7,419.5"/>
<polygon points="83.9,215.2 59.8,221.7 74.5,238.3"/>
<polygon points="97.5,371.4 75.4,360.5 75.4,385.6"/>
<polygon points="581.1,327.5 567.8,306.6 555.6,325.3"/>
<polygon points="546.4,338.4 533.7,316.3 521.5,335.6"/>
<polygon points="525.7,378.4 517.6,355.5 502.2,370.9"/>
<polygon points="626.5,398.2 656.5,400.5 643,422.4"/>
<polygon points="1039.3,794.7 1026,822 1055,820.1"/>
<polygon points="786.8,555.7 819.5,559.5 804.2,581.2"/>
<polygon points="792.1,466.1 824.7,472 809.2,493.9"/>
<polygon points="845.2,476.6 877.4,482.9 860.7,504.1"/>
<polygon points="980.8,626 1009.5,634.6 991.5,652.6"/>
<polygon points="1069,970 1052.4,995.9 1078.8,999.8"/>
<polygon points="1114.7,712.3 1092.5,728.5 1115,741"/>
<polygon points="1112.9,583.2 1133,601.1 1111.2,610.1"/>
<polygon points="955.8,987.5 938.5,1014.6 966.8,1016.5"/>
<polygon points="1006.7,804 991.9,831.6 1021.5,829.7"/>
<polygon points="937.6,1320.5 930.1,1347.2 954.6,1342.1"/>
<polygon points="986.3,1085.3 971.3,1113 999,1114.3"/>
<polygon points="1076.1,1105 1062,1125.4 1085.2,1128.7"/>
<polygon points="981,1489.7 969,1511 991,1513"/>
<polygon points="1261,457.9 1235,461.1 1247.8,481"/>
<polygon points="1460.6,367.8 1430.9,369 1442.5,392.2"/>
<polygon points="1450.8,401.4 1418.7,402.4 1431.5,427.5"/>
<polygon points="1439.4,440.9 1405.4,443.1 1418.9,468.2"/>
<polygon points="1313.8,548.8 1286.4,547.3 1296.7,568.5"/>
<polygon points="1733.5,340.6 1705,341.1 1717.2,363"/>
<polygon points="1657.7,399.3 1629,396.1 1639.3,419.2"/>
<polygon points="1681.5,425.6 1652.8,422.4 1663.1,445.6"/>
<polygon points="1824.6,240.4 1797.6,243.3 1811.1,263.9"/>
<polygon points="1953.3,265 1930,254 1930,276"/>
</g>
<g font-size="53.2">
<circle cx="2119.5" cy="453.4" r="19.4" fill="#d73027"/>
<text x="2209.6" y="468.6" textLength="60.2" lengthAdjust="spacingAndGlyphs">sA</text>
<circle cx="2119.5" cy="526.4" r="19.4" fill="#fc8d59"/>
<text x="2209.6" y="541.6" textLength="61.8" lengthAdjust="spacingAndGlyphs">sB</text>
<circle cx="2119.5" cy="599.3" r="19.4" fill="#fee090"/>
<text x="2209.6" y="614.5" textLength="62.6" lengthAdjust="spacingAndGlyphs">sC</text>
<circle cx="2119.5" cy="672.2" r="19.4" fill="#91bfdb"/>
<text x="2209.6" y="687.5" textLength="157.2" lengthAdjust="spacingAndGlyphs">sCmid</text>
<circle cx="2119.5" cy="745.2" r="19.4" fill="#4575b4"/>
<text x="2209.6" y="760.4" textLength="65.4" lengthAdjust="spacingAndGlyphs">sD</text>
<circle cx="2119.5" cy="818.1" r="19.4" fill="#66c2a5"/>
<text x="2209.6" y="833.4" textLength="160.5" lengthAdjust="spacingAndGlyphs">sDmid</text>
<circle cx="2119.5" cy="891.1" r="19.4" fill="#3288bd"/>
<text x="2209.6" y="906.3" textLength="56.5" lengthAdjust="spacingAndGlyphs">sE</text>
<circle cx="2119.5" cy="964.0" r="19.4" fill="#abdda4"/>
<text x="2209.6" y="979.2" textLength="153" lengthAdjust="spacingAndGlyphs">sEndE</text>
<circle cx="2119.5" cy="1037.0" r="19.4" fill="#e6f598"/>
<text x="2209.6" y="1052.2" textLength="150.1" lengthAdjust="spacingAndGlyphs">sEndF</text>
<circle cx="2119.5" cy="1110.0" r="19.4" fill="#fee08b"/>
<text x="2209.6" y="1125.2" textLength="162.3" lengthAdjust="spacingAndGlyphs">sEndG</text>
<circle cx="2119.5" cy="1182.9" r="19.4" fill="#f46d43"/>
<text x="2209.6" y="1198.1" textLength="53.8" lengthAdjust="spacingAndGlyphs">sF</text>
<circle cx="2119.5" cy="1255.8" r="19.4" fill="#e7298a"/>
<text x="2209.6" y="1271.0" textLength="67.8" lengthAdjust="spacingAndGlyphs">sG</text>
</g>
</svg>
</body></html>
